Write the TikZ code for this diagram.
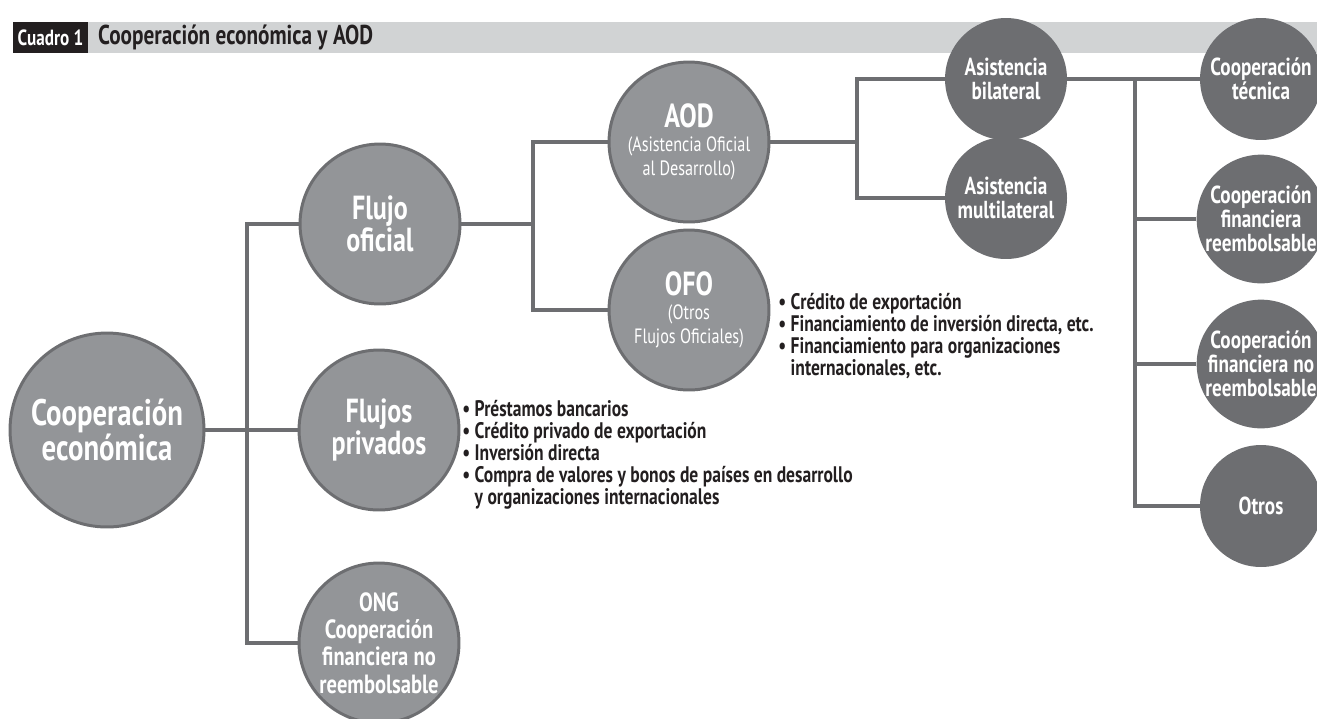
\documentclass[tikz,border=0pt]{standalone}
\usepackage{fontspec}
\setmainfont[FakeStretch=0.78]{PT Sans}
\usetikzlibrary{positioning}
\definecolor{barGray}{HTML}{D1D3D4}
\definecolor{midGray}{HTML}{939598}
\definecolor{darkGray}{HTML}{6D6E71}
\definecolor{inkBlack}{HTML}{231F20}
\newcommand{\subfont}{\mdseries\fontsize{11.8}{13}\selectfont}
\tikzset{
    flow/.style={
        circle, draw=darkGray, line width=1.7pt, fill=midGray, text=white,
        align=center, inner sep=0pt, minimum size=3.2cm, font=\bfseries\fontsize{19}{17}\selectfont
    },
    kind/.style={
        circle, fill=darkGray, text=white, align=center, inner sep=0pt,
        minimum size=2.44cm, font=\bfseries\fontsize{14}{13.5}\selectfont
    },
    link/.style={
        draw=darkGray, line width=2.3pt
    },
    itemlist/.style={
        anchor=west, align=left, text=inkBlack, inner sep=0pt, font=\bfseries\fontsize{12.8}{12.5}\selectfont
    }
}

\begin{document}
\begin{tikzpicture}[x=0.02cm, y=-0.02cm]
    \useasboundingbox (0,0) rectangle (1317,718);
    % title bar
    \fill[barGray] (13,22) rectangle (1317,53);
    \fill[inkBlack] (13,22) rectangle (88,53);
    \node[text=white, font=\bfseries\fontsize{12.5}{13}\selectfont] (cuadro) at (50.5,37.5) {Cuadro 1};
    \node[anchor=west, text=inkBlack, font=\bfseries\fontsize{15.5}{16}\selectfont] (titulo) at (92,37.5) {Cooperación económica y AOD};

    % circles
    \node[flow, minimum size=3.88cm, font=\bfseries\fontsize{21}{19}\selectfont] (econ) at (107,430) {Cooperación\\económica};
    \node[flow] (oficial) at (380,224) {Flujo\\oficial};
    \node[flow] (privados) at (379,430) {Flujos\\privados};
    \node[flow, font=\bfseries\fontsize{15}{15.5}\selectfont] (ong) at (379,643) {ONG\\Cooperación\\financiera no\\reembolsable};
    \node[flow, font=\bfseries\fontsize{19}{13.5}\selectfont] (aod) at (689,142) {AOD\\{\subfont(Asistencia Oficial}\\{\subfont al Desarrollo)}};
    \node[flow, font=\bfseries\fontsize{19}{13.5}\selectfont] (ofo) at (689,310) {OFO\\{\subfont(Otros}\\{\subfont Flujos Oficiales)}};
    \node[kind] (bilat) at (1006,79) {Asistencia\\bilateral};
    \node[kind] (multi) at (1006,198) {Asistencia\\multilateral};
    \node[kind] (tecnica) at (1261,79) {Cooperación\\técnica};
    \node[kind] (reemb) at (1261,219) {Cooperación\\financiera\\reembolsable};
    \node[kind] (noreemb) at (1261,364) {Cooperación\\financiera no\\reembolsable};
    \node[kind] (otros) at (1261,506) {Otros};

    % lists
    \node[itemlist] (privlist) at (462,455) {• Préstamos bancarios\\• Crédito privado de exportación\\• Inversión directa\\• Compra de valores y bonos de países en desarrollo\\\phantom{• }y organizaciones internacionales};
    \node[itemlist] (ofolist) at (778,336) {• Crédito de exportación\\• Financiamiento de inversión directa, etc.\\• Financiamiento para organizaciones\\\phantom{• }internacionales, etc.};

    % connectors
    \coordinate (trunk) at (247,430);
    \coordinate (split) at (533,224);
    \coordinate (fork) at (857,142);
    \coordinate (rail) at (1135,79);
    \draw[link] (econ) -- (privados);
    \draw[link] (oficial.west) -| (trunk) |- (ong.west);
    \draw[link] (oficial) -- (split);
    \draw[link] (aod.west) -| (split) |- (ofo.west);
    \draw[link] (aod) -- (fork);
    \draw[link] (bilat.west) -| (fork) |- (multi.west);
    \draw[link] (bilat) -- (tecnica);
    \draw[link] (rail) |- (reemb.west);
    \draw[link] (rail) |- (noreemb.west);
    \draw[link] (rail) |- (otros.west);
\end{tikzpicture}
\end{document}
